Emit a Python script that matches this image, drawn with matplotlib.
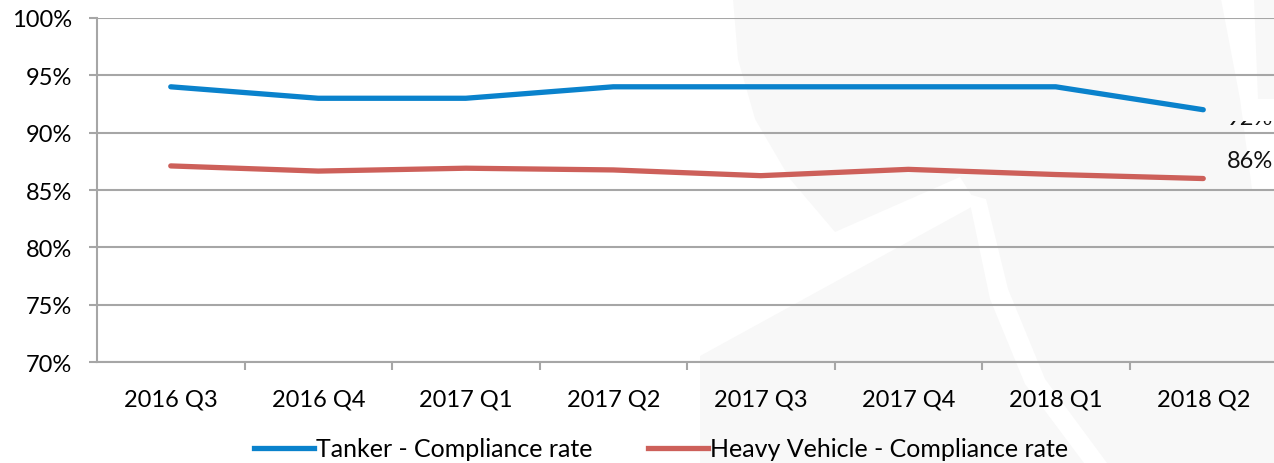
import matplotlib
matplotlib.use("Agg")
import matplotlib.pyplot as plt
from matplotlib.patches import Polygon, Rectangle
from matplotlib.lines import Line2D

categories = ["2016 Q3", "2016 Q4", "2017 Q1", "2017 Q2", "2017 Q3", "2017 Q4", "2018 Q1", "2018 Q2"]
tanker = [94.0, 93.0, 93.0, 94.0, 94.0, 94.0, 94.0, 92.0]
heavy = [87.1, 86.65, 86.9, 86.75, 86.25, 86.8, 86.35, 86.0]
yticks = [70, 75, 80, 85, 90, 95, 100]
ytick_labels = ["70%", "75%", "80%", "85%", "90%", "95%", "100%"]
series_names = ["Tanker - Compliance rate", "Heavy Vehicle - Compliance rate"]
end_labels = ["92%", "86%"]

BLUE = "#0A82CC"
RED = "#CD605A"
GRID = "#A6A6A6"
WM = "#F8F8F8"
FONT = "Lato"
FS = 17

W, H = 1274, 464
fig = plt.figure(figsize=(W / 100, H / 100), dpi=100)

# faint watermark in a background axes using pixel coordinates
bg = fig.add_axes([0, 0, 1, 1], zorder=-5)
bg.set_xlim(0, W)
bg.set_ylim(H, 0)
bg.axis("off")
bg.add_patch(Polygon([(733, 0), (738, 60), (755, 120), (790, 180), (835, 233), (960, 178),
                      (977, 205), (700, 357), (700, 464), (1274, 464), (1274, 0)],
                     closed=True, facecolor=WM, edgecolor="none"))
bg.add_patch(Polygon([(968, 195), (986, 200), (1008, 290), (1045, 380), (1107, 464), (1084, 464),
                      (1025, 385), (990, 300)], closed=True, facecolor="white", edgecolor="none"))
bg.add_patch(Polygon([(1221, 0), (1254, 0), (1258, 100), (1274, 100), (1274, 190), (1252, 190),
                      (1240, 100)], closed=True, facecolor="white", edgecolor="none"))

x0, x1 = 97, 1277
y0, y1 = 19, 363
ax = fig.add_axes([x0 / W, 1 - y1 / H, (x1 - x0) / W, (y1 - y0) / H])
ax.patch.set_alpha(0)

xs = list(range(len(categories)))
ax.plot(xs, tanker, color=BLUE, lw=3.8, solid_capstyle="round", solid_joinstyle="round", zorder=3)
ax.plot(xs, heavy, color=RED, lw=3.8, solid_capstyle="round", solid_joinstyle="round", zorder=3)

ax.set_xlim(-0.5, len(categories) - 0.5)
ax.set_ylim(70, 100)
ax.set_yticks(yticks)
ax.set_yticklabels(ytick_labels, fontsize=FS, family=FONT)
ax.yaxis.grid(True, color=GRID, lw=1.5)
ax.set_axisbelow(True)

ax.set_xticks(xs)
ax.set_xticklabels(categories, fontsize=FS, family=FONT)
ax.set_xticks([i - 0.5 for i in range(1, len(categories))], minor=True)
ax.tick_params(axis="x", which="major", length=0, pad=19)
ax.tick_params(axis="x", which="minor", length=6, color=GRID, width=1.5)
ax.tick_params(axis="y", length=6, color=GRID, width=1.5, pad=12)
for s in ["top", "right"]:
    ax.spines[s].set_visible(False)
for s in ["left", "bottom"]:
    ax.spines[s].set_color(GRID)
    ax.spines[s].set_linewidth(1.5)

# end labels (92% is mostly hidden in the original)
t1 = ax.text(xs[-1] + 0.16, tanker[-1] - 0.7, end_labels[0], fontsize=FS, family=FONT,
             va="center", ha="left", color="#111111", zorder=4)
t1.set_clip_path(Rectangle((xs[-1], 90.45), 1.0, 0.6, transform=ax.transData))
t1.set_clip_on(True)
ax.text(xs[-1] + 0.16, heavy[-1] + 1.6, end_labels[1], fontsize=FS, family=FONT,
        va="center", ha="left", color="#111111", zorder=4)

handles = [Line2D([], [], color=BLUE, lw=3.8), Line2D([], [], color=RED, lw=3.8)]
fig.legend(handles, series_names, loc="center", bbox_to_anchor=(661 / W, 1 - 450 / H),
           ncol=2, frameon=False, prop={"family": FONT, "size": 18},
           handlelength=2.4, handletextpad=0.1, columnspacing=2.2)

fig.savefig("out.png", dpi=100)
